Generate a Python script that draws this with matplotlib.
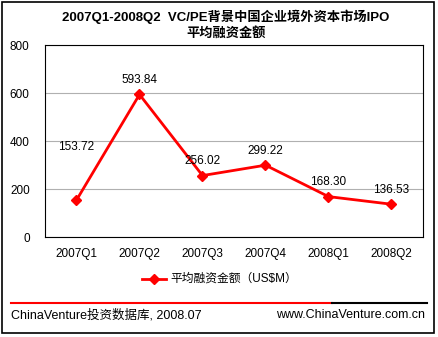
import matplotlib
matplotlib.use('Agg')
import matplotlib.pyplot as plt
from matplotlib.lines import Line2D
from matplotlib.patches import Rectangle

plt.rcParams['font.family'] = ['Liberation Sans', 'Noto Sans CJK SC', 'DejaVu Sans']

quarters = ['2007Q1', '2007Q2', '2007Q3', '2007Q4', '2008Q1', '2008Q2']
avg_ipo = [153.72, 593.84, 256.02, 299.22, 168.30, 136.53]
yticks = [0, 200, 400, 600, 800]

fig = plt.figure(figsize=(4.39, 3.37), dpi=100)
W, H = 439, 337

# outer frame
fig.patches.append(Rectangle((2 / W, 4 / H), 432 / W, 331 / H, transform=fig.transFigure,
                             fill=False, edgecolor='black', linewidth=1.2))

ax = fig.add_axes([45 / W, 100 / H, 378 / W, 192 / H])
x = list(range(len(quarters)))
ax.plot(x, avg_ipo, color='#ff0000', linewidth=2, marker='D', markersize=5.5,
        markeredgecolor='#ff0000', markerfacecolor='#ff0000')
for i, v in enumerate(avg_ipo):
    # first label sits higher in the original to clear the rising line
    dy = 34 if i == 0 else 6
    ax.annotate(f'{v:.2f}', (x[i], v), xytext=(0, dy), textcoords='offset points',
                ha='center', va='bottom', fontsize=8.5)

ax.set_xlim(-0.5, len(quarters) - 0.5)
ax.set_ylim(0, 800)
ax.set_yticks(yticks)
ax.set_xticks(x)
ax.set_xticklabels(quarters)
ax.tick_params(axis='y', length=0, labelsize=8.5, pad=11)
ax.tick_params(axis='x', length=0, labelsize=8.5, pad=8)
ax.yaxis.grid(True, color='#b0b0b0', linewidth=0.8)
ax.set_axisbelow(True)
for s in ax.spines.values():
    s.set_color('black')
    s.set_linewidth(0.8)

fig.text(226 / W, 1 - 17 / H, '2007Q1-2008Q2  VC/PE背景中国企业境外资本市场IPO',
         ha='center', va='center', fontsize=9.5, fontweight='bold')
fig.text(226 / W, 1 - 33 / H, '平均融资金额', ha='center', va='center',
         fontsize=9.5, fontweight='bold')

# legend
fig.lines.append(Line2D([142 / W, 154 / W, 166 / W], [1 - 279 / H] * 3, transform=fig.transFigure,
                        color='#ff0000', linewidth=2, marker='D', markersize=5.5,
                        markevery=[1], markerfacecolor='#ff0000', markeredgecolor='#ff0000'))
fig.text(170 / W, 1 - 279 / H, '平均融资金额（US$M）', ha='left', va='center', fontsize=8.5)

# footer rule
fig.lines.append(Line2D([11 / W, 332 / W], [1 - 303 / H] * 2, transform=fig.transFigure,
                        color='#ff0000', linewidth=1.5))
fig.lines.append(Line2D([332 / W, 427 / W], [1 - 303 / H] * 2, transform=fig.transFigure,
                        color='black', linewidth=1.5))
fig.text(11 / W, 1 - 315 / H, 'ChinaVenture投资数据库, 2008.07', ha='left', va='center', fontsize=9)
fig.text(425 / W, 1 - 315 / H, 'www.ChinaVenture.com.cn', ha='right', va='center', fontsize=9)

fig.savefig('out.png', dpi=100)
